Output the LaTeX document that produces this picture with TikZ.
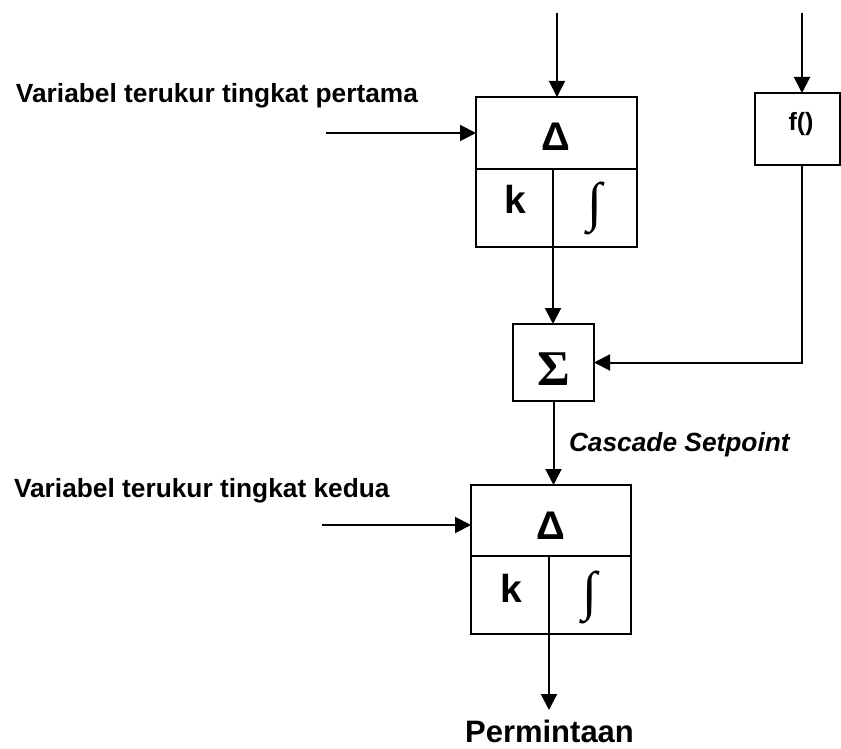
\documentclass[tikz,border=0pt]{standalone}
\usepackage{fontspec}
\setmainfont{Liberation Sans}
\newfontfamily\serifsym{Liberation Serif}
\usetikzlibrary{arrows.meta}
\begin{document}
\begin{tikzpicture}[x=1pt,y=-1pt,line width=2pt,
  >={Triangle[length=16pt,width=16pt]},
  cell/.style={draw,rectangle,inner sep=0pt,outer sep=0pt},
  lbl/.style={inner sep=0pt,font=\fontsize{26.3}{30}\selectfont\bfseries},
  deltalbl/.style={inner sep=0pt,anchor=base,font=\fontsize{40}{42}\selectfont\bfseries},
  klbl/.style={inner sep=0pt,anchor=base,font=\fontsize{39}{40}\selectfont\bfseries},
  intlbl/.style={inner sep=0pt,font=\fontsize{54}{56}\selectfont\serifsym\bfseries},
  sumlbl/.style={inner sep=0pt,anchor=base,font=\fontsize{50}{52}\selectfont\serifsym\bfseries}]
\useasboundingbox (0,0) rectangle (841,749);

% first controller
\node[cell,minimum width=161pt,minimum height=72pt] (d1cell) at (556.5,133) {};
\node[cell,minimum width=77pt,minimum height=78pt] (k1cell) at (514.5,208) {};
\node[cell,minimum width=84pt,minimum height=78pt] (i1cell) at (595,208) {};
\node[deltalbl] (d1) at (556,151) {Δ};
\node[klbl] (k1) at (515,213) {k};
\node[intlbl] (i1) at (595,208) {∫};

% f() box
\node[cell,minimum width=85pt,minimum height=72pt] (fbox) at (797.5,129) {};
\node[lbl,anchor=base,font=\fontsize{25}{27}\selectfont\bfseries] (ftext) at (801,131) {f()};

% sum
\node[cell,minimum width=81pt,minimum height=77pt] (sigma) at (553.5,362.5) {};
\node[sumlbl] (sig) at (553.5,385) {Σ};

% second controller
\node[cell,minimum width=160pt,minimum height=71pt] (d2cell) at (551,520.5) {};
\node[cell,minimum width=78pt,minimum height=78pt] (k2cell) at (510,595) {};
\node[cell,minimum width=82pt,minimum height=78pt] (i2cell) at (590,595) {};
\node[deltalbl] (d2) at (551,539) {Δ};
\node[klbl] (k2) at (511,602) {k};
\node[intlbl] (i2) at (590,597) {∫};

% texts
\node[lbl,anchor=base west] (t1) at (15,103) {Variabel terukur tingkat pertama};
\node[lbl,anchor=base west] (t2) at (13,497) {Variabel terukur tingkat kedua};
\node[lbl,anchor=base west,font=\fontsize{26.3}{30}\selectfont\bfseries\itshape] (cs) at (568,451) {Cascade Setpoint};
\node[lbl,anchor=base,font=\fontsize{31}{33}\selectfont\bfseries] (perm) at (549.5,742) {Permintaan};

% connectors
\coordinate (in1) at (557,13);
\coordinate (in2) at (802,13);
\coordinate (left1) at (326,133);
\coordinate (left2) at (322,525);
\coordinate (out) at (549,710);
\draw[->] (in1) -- (in1 |- d1cell.north);
\draw[->] (in2) -- (in2 |- fbox.north);
\draw[->] (left1) -- (left1 -| d1cell.west);
\draw[->] (left2) -- (left2 -| d2cell.west);
\draw[->] (k1cell.south east) -- (k1cell.south east |- sigma.north);
\draw[->] (in2 |- fbox.south) |- (sigma.east);
\draw[->] (sigma.south) -- (sigma.south |- d2cell.north);
\draw[->] (k2cell.south east) -- (out);
\end{tikzpicture}
\end{document}
